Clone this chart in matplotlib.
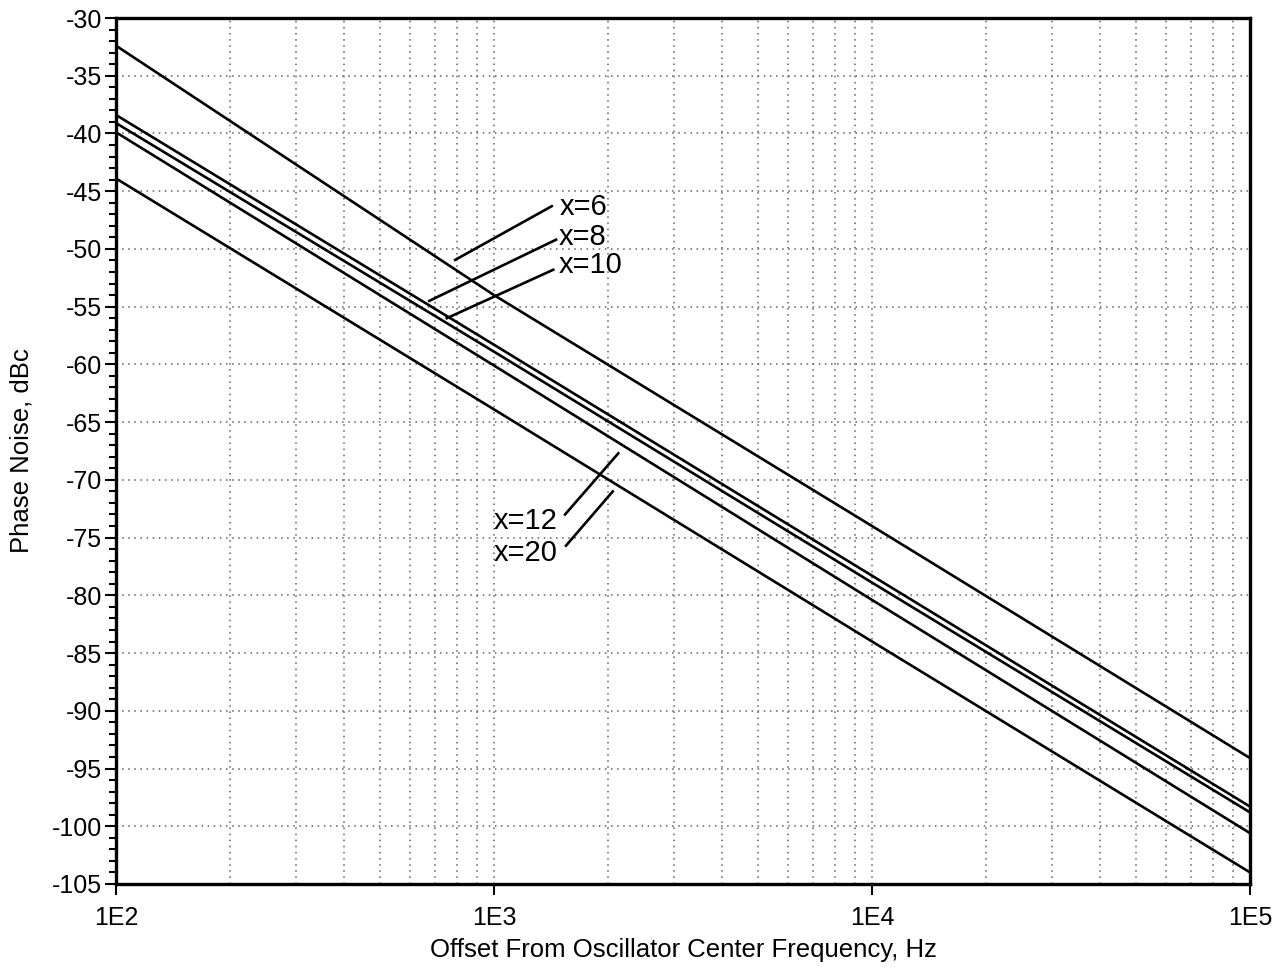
import numpy as np
import matplotlib
matplotlib.use("Agg")
from matplotlib import pyplot as plt
from matplotlib.ticker import FixedLocator, LogLocator, NullFormatter

# offsets read at each decade, Hz
freq = [1e2, 1e3, 1e4, 1e5]

# phase noise, dBc
pn_x6 = [-32.4, -54.0, -74.0, -94.1]
pn_x8 = [-38.4, -58.3, -78.3, -98.3]
pn_x10 = [-39.1, -58.9, -78.9, -98.8]
pn_x12 = [-39.9, -60.1, -80.4, -100.6]
pn_x20 = [-43.9, -63.9, -84.0, -104.0]

curves = [pn_x6, pn_x8, pn_x10, pn_x12, pn_x20]

# label text, text position, leader start (on the curve side)
labels = ["x=6", "x=8", "x=10", "x=12", "x=20"]
label_pos = [(1495, -46.4), (1486, -49.0), (1486, -51.4), (1000, -73.6), (1000, -76.3)]
leader_start = [(789, -50.95), (674, -54.5), (750, -56.0), (2132, -67.7), (2061, -71.0)]
leader_end = [(1421, -46.3), (1459, -49.2), (1435, -51.8), (1541, -73.0), (1550, -75.7)]

yticks = list(range(-105, -29, 5))
xticks = [1e2, 1e3, 1e4, 1e5]
xticklabels = ["1E2", "1E3", "1E4", "1E5"]

plt.rcParams['font.family'] = ['Liberation Sans', 'DejaVu Sans']

fig = plt.figure(figsize=(12.85, 9.68), dpi=100)
ax = fig.add_axes([0.0903, 0.0868, 0.8825, 0.8946])

for pn in curves:
    ax.plot(freq, pn, color="black", lw=1.9, solid_capstyle="butt")

for lab, tp, s, e in zip(labels, label_pos, leader_start, leader_end):
    ax.plot([s[0], e[0]], [s[1], e[1]], color="black", lw=1.9)
    ax.text(tp[0], tp[1], lab, fontsize=21, ha="left", va="center")

ax.set_xscale("log")
ax.set_xlim(1e2, 1e5)
ax.set_ylim(-105, -30)

ax.set_xticks(xticks)
ax.set_xticklabels(xticklabels)
ax.xaxis.set_minor_locator(LogLocator(base=10, subs=np.arange(2, 10)))
ax.xaxis.set_minor_formatter(NullFormatter())
ax.set_yticks(yticks)
ax.set_yticklabels([str(v) for v in yticks])
ax.yaxis.set_minor_locator(FixedLocator(list(range(-105, -29, 1))))

ax.grid(True, which="major", color="#606060", linestyle=(0, (1, 3)), lw=1.1)
ax.grid(True, which="minor", axis="x", color="#606060", linestyle=(0, (1, 3)), lw=1.1)

ax.tick_params(axis="both", which="major", direction="out", length=8, width=1.5,
               labelsize=18, pad=2)
ax.tick_params(axis="y", which="minor", direction="out", length=5, width=1.5)
ax.tick_params(axis="x", which="minor", length=0)
ax.tick_params(axis="x", which="major", pad=8, labelsize=18)

for sp in ax.spines.values():
    sp.set_linewidth(2.4)

ax.set_xlabel("Offset From Oscillator Center Frequency, Hz", fontsize=18.5, va="center")
ax.xaxis.set_label_coords(0.5, -0.0762)
ax.set_ylabel("Phase Noise, dBc", fontsize=18.5, va="center")
ax.yaxis.set_label_coords(-0.083, 0.5)

fig.savefig("out.png", dpi=100)
